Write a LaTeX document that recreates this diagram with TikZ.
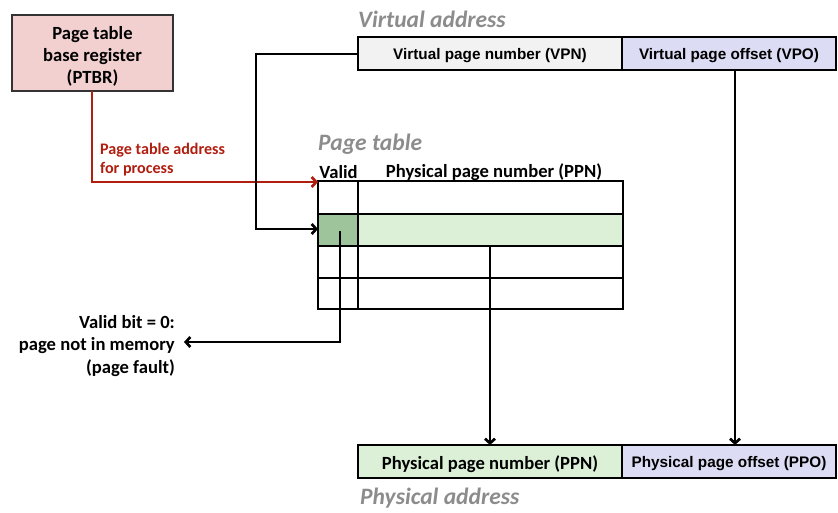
\documentclass[tikz,border=0pt]{standalone}
\usepackage{fontspec}
\setmainfont{Carlito}
\newfontfamily\arialf{Liberation Sans}
\usetikzlibrary{arrows.meta}
\definecolor{ptbrfill}{HTML}{F2D0D0}
\definecolor{redline}{HTML}{B01E10}
\definecolor{grayfill}{HTML}{F2F2F2}
\definecolor{lavfill}{HTML}{DCDCF4}
\definecolor{lgreen}{HTML}{DCF0D8}
\definecolor{dgreen}{HTML}{9DC49A}
\definecolor{titlegray}{HTML}{8C8C8C}
\begin{document}
\begin{tikzpicture}[x=1pt,y=-1pt,
  box/.style={draw=black,line width=1.7pt,inner sep=0pt},
  conn/.style={line width=2.7pt,-{Straight Barb[length=4.5pt,width=10pt]}},
  ttl/.style={font=\fontsize{23.5}{26}\selectfont\bfseries\itshape,text=titlegray,anchor=west,inner sep=0pt},
  cal/.style={font=\fontsize{18.6}{22}\selectfont\bfseries,inner sep=0pt},
  ari/.style={font=\arialf\fontsize{15.3}{18}\selectfont\bfseries,inner sep=0pt}]
\useasboundingbox (0,0) rectangle (838,512);
% PTBR
\draw[box,fill=ptbrfill,draw=black!80] (12,15) rectangle (173,91);
\node[cal,align=center,font=\fontsize{18.6}{22}\selectfont\bfseries] (ptbr) at (92.5,56) {Page table\\base register\\(PTBR)};
\coordinate (ptbrb) at (92,91);
% virtual address
\node[ttl] (vat) at (358,19) {Virtual address};
\draw[box,fill=grayfill] (358,37) rectangle (622,70);
\draw[box,fill=lavfill] (622,37) rectangle (836,70);
\node[ari] (vpn) at (490,55.5) {Virtual page number (VPN)};
\node[ari] (vpo) at (729,55.5) {Virtual page offset (VPO)};
\coordinate (vpnl) at (358,54);
\coordinate (vpob) at (735,70);
% page table
\node[ttl] (ptt) at (318,144) {Page table};
\node[cal] (valid) at (338.5,172.5) {Valid};
\node[cal] (ppnh) at (494,172.5) {Physical page number (PPN)};
\fill[lgreen] (358,214) rectangle (623,246);
\fill[dgreen] (318,214) rectangle (358,246);
\draw[line width=1.7pt] (318,181) rectangle (623,309);
\foreach \yy in {214,246,278} \draw[line width=1.7pt] (318,\yy) -- (623,\yy);
\draw[line width=1.7pt] (358,181) -- (358,309);
\coordinate (pttop) at (318,182);
\coordinate (ptrow) at (318,229);
\coordinate (vcell) at (340,231);
\coordinate (ppncell) at (490,246);
% physical address
\draw[box,fill=lgreen] (358,445) rectangle (622,478);
\draw[box,fill=lavfill] (622,445) rectangle (836,478);
\node[cal] (ppn) at (490,464.5) {Physical page number (PPN)};
\node[ari] (ppo) at (729,464) {Physical page offset (PPO)};
\coordinate (ppnt) at (490,445);
\coordinate (ppot) at (735,445);
\node[ttl] (pat) at (360,498) {Physical address};
% fault text
\node[cal,align=right,anchor=east,font=\fontsize{18.6}{22.5}\selectfont\bfseries] (fault) at (175,346) {Valid bit = 0:\\page not in memory\\(page fault)};
\coordinate (faultr) at (184,342);
% red connector
\draw[conn,draw=redline] (ptbrb) |- (pttop);
\node[font=\fontsize{16.1}{19}\selectfont\bfseries,text=redline,align=left,anchor=west,inner sep=0pt] (ptal) at (100,159.5) {Page table address\\for process};
% black connectors
\draw[conn] (vpnl) -- (256,54) |- (ptrow);
\draw[conn] (vcell) |- (faultr);
\draw[conn] (ppncell) -- (ppnt);
\draw[conn] (vpob) -- (ppot);
\end{tikzpicture}
\end{document}
